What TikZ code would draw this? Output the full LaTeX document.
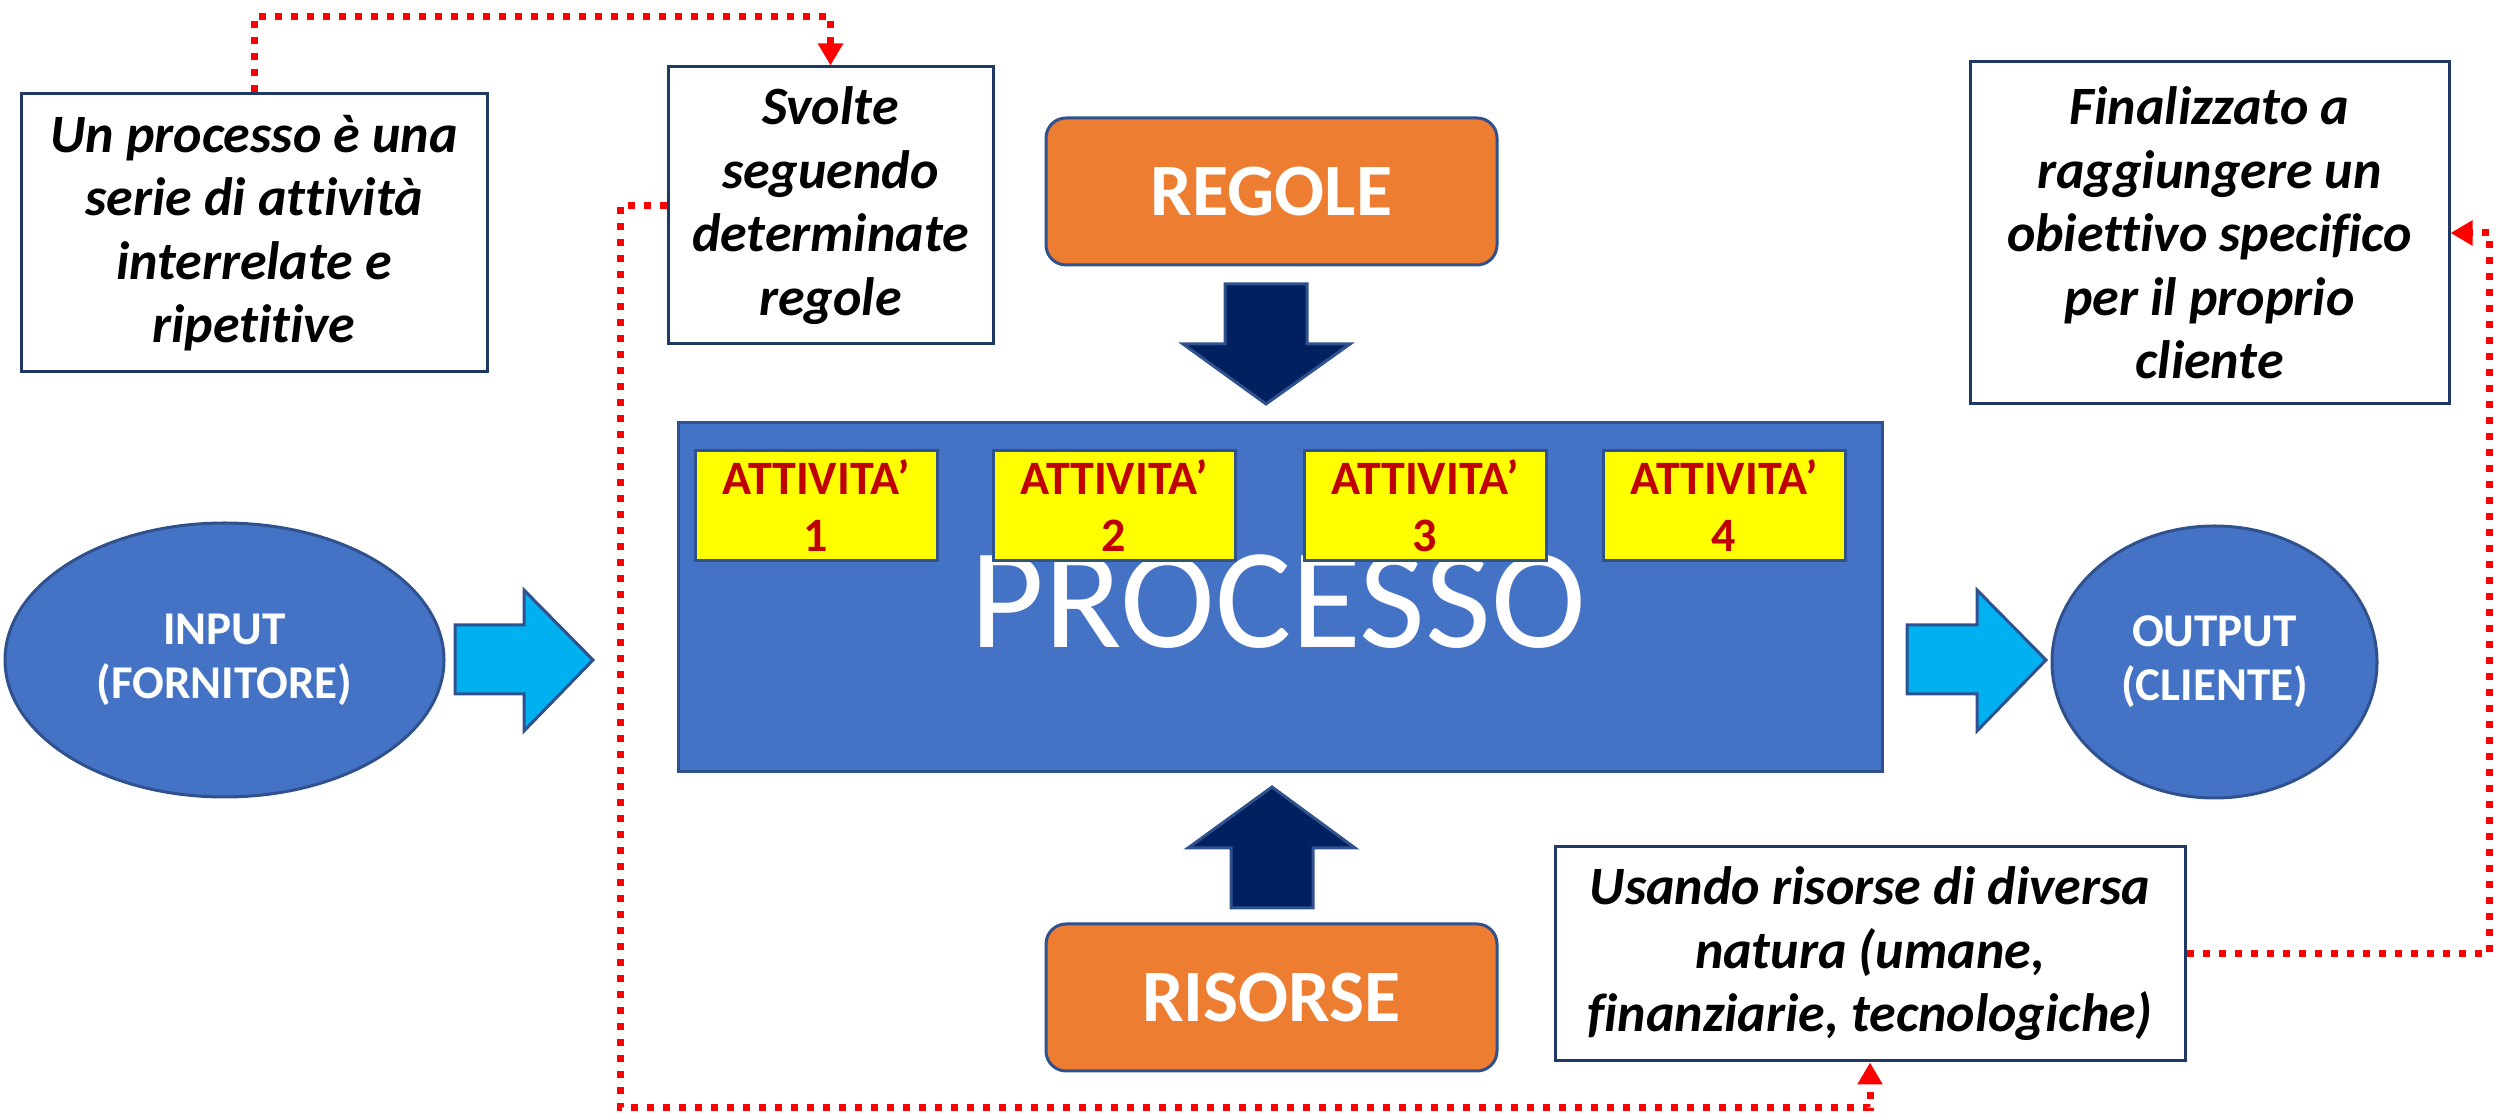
\documentclass[tikz,border=0pt]{standalone}
\usepackage{fontspec}
\setmainfont{Carlito}[Ligatures=NoCommon]
\usetikzlibrary{arrows.meta,shapes.geometric}
\definecolor{pblue}{HTML}{4472C4}
\definecolor{pedge}{HTML}{2F528F}
\definecolor{porange}{HTML}{ED7D31}
\definecolor{pnavy}{HTML}{002060}
\definecolor{pcyan}{HTML}{00B0F0}
\definecolor{pyellow}{HTML}{FFFF00}
\definecolor{pred}{HTML}{C00000}
\definecolor{tborder}{HTML}{203864}
\definecolor{dotred}{HTML}{FF0000}
\begin{document}
\begin{tikzpicture}[x=1pt,y=1pt,
  tbox/.style={draw=tborder, line width=3pt, fill=white, inner sep=0pt, align=center,
    font=\fontsize{54}{63.5}\selectfont\bfseries\itshape},
  obox/.style={draw=pedge, line width=3pt, fill=porange, rounded corners=20pt, inner sep=0pt,
    minimum width=451pt, minimum height=147pt, text=white, font=\fontsize{74}{80}\selectfont\bfseries},
  ybox/.style={draw=pedge, line width=3pt, fill=pyellow, inner sep=0pt, align=center,
    minimum width=242pt, minimum height=110pt, text=pred, font=\fontsize{48}{57}\selectfont\bfseries},
  ell/.style={ellipse, draw=pedge, line width=3pt, fill=pblue, inner sep=0pt, align=center,
    text=white, font=\fontsize{47}{54}\selectfont\bfseries},
  blockarrow/.style={draw=pedge, line width=3pt, line join=miter},
  conn/.style={draw=dotred, line width=7pt, dash pattern=on 7pt off 9pt, line join=miter,
    -{Triangle[width=24pt,length=22pt]}}
]
\useasboundingbox (0,0) rectangle (2494,1113);

% text boxes
\node[tbox, minimum width=466pt, minimum height=278pt] (boxA) at (254,880)
  {Un processo è una\\serie di attività\\interrelate e\\ripetitive};
\node[tbox, minimum width=325pt, minimum height=277pt] (boxB) at (830.5,907.5)
  {Svolte\\seguendo\\determinate\\regole};
\node[tbox, minimum width=479pt, minimum height=342pt] (fin) at (2209.5,880)
  {Finalizzato a\\raggiungere un\\obiettivo specifico\\per il proprio\\cliente};
\node[tbox, minimum width=630pt, minimum height=214pt] (usando) at (1870,159)
  {Usando risorse di diversa\\natura (umane,\\finanziarie, tecnologiche)};

% orange boxes
\node[obox] (regole) at (1271.5,921.5) {REGOLE};
\node[obox] (risorse) at (1271.5,115.5) {RISORSE};

% process rectangle
\node[draw=pedge, line width=3pt, fill=pblue, minimum width=1204pt, minimum height=349pt, inner sep=0pt] (proc) at (1280,515.5) {};
\node[text=white, inner sep=0pt, font=\fontsize{143}{150}\selectfont] (proctext) at (1278,511) {PROCESSO};

% activities
\node[ybox] (a1) at (816,607) {ATTIVITA’\\1};
\node[ybox] (a2) at (1114,607) {ATTIVITA’\\2};
\node[ybox] (a3) at (1425,607) {ATTIVITA’\\3};
\node[ybox] (a4) at (1724,607) {ATTIVITA’\\4};

% ellipses
\node[ell, minimum width=439pt, minimum height=274pt] (input) at (224.5,453) {INPUT\\(FORNITORE)};
\node[ell, minimum width=325pt, minimum height=272pt] (output) at (2214.5,451) {OUTPUT\\(CLIENTE)};

% cyan block arrows
\filldraw[blockarrow, fill=pcyan] (455,488) -- (524,488) -- (524,523) -- (593,453) -- (524,382) -- (524,419) -- (455,419) -- cycle;
\filldraw[blockarrow, fill=pcyan] (1907,488) -- (1977,488) -- (1977,523) -- (2046,453) -- (1977,382) -- (1977,419) -- (1907,419) -- cycle;

% navy block arrows
\filldraw[blockarrow, fill=pnavy] (1225,829) -- (1307,829) -- (1307,769) -- (1350,769) -- (1266,709) -- (1183,769) -- (1225,769) -- cycle;
\filldraw[blockarrow, fill=pnavy] (1231,205) -- (1313,205) -- (1313,265) -- (1355,265) -- (1272,326) -- (1188,265) -- (1231,265) -- cycle;

% dotted connectors
\coordinate (topc) at (254,1096);
\coordinate (leftc) at (620,5);
\coordinate (rightc) at (2489,0);
\draw[conn] (boxA.north) -- (topc) -| (boxB.north);
\draw[conn] (boxB.west) -| (leftc) -| (usando.south);
\draw[conn] (usando.east) -| (rightc |- fin.east) -- (fin.east);
\end{tikzpicture}
\end{document}
